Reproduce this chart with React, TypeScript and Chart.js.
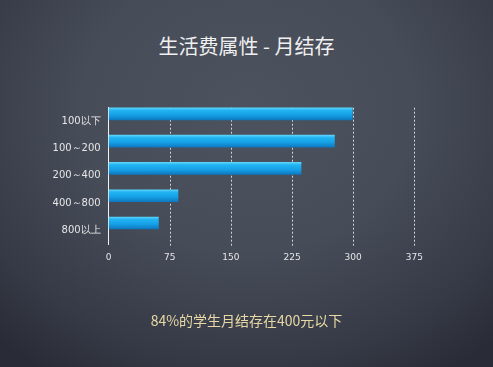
import React, { useEffect, useRef } from "react";
import { Chart, registerables } from "chart.js";

Chart.register(...registerables);

const categories: string[] = ["100以下", "100～200", "200～400", "400～800", "800以上"];
const values: number[] = [299, 277, 236, 85, 61];
const xTicks: number[] = [0, 75, 150, 225, 300, 375];
const titleText = "生活费属性 - 月结存";
const footerText = "84%的学生月结存在400元以下";

const W = 493;
const H = 367;

export default function App() {
  const ref = useRef<HTMLCanvasElement | null>(null);

  useEffect(() => {
    document.body.style.margin = "0";
    const canvas = ref.current;
    if (!canvas) return;

    const gridPlugin = {
      id: "dottedGrid",
      beforeDatasetsDraw(chart: any) {
        const { ctx, chartArea, scales } = chart;
        ctx.save();
        ctx.strokeStyle = "rgba(235,235,235,0.85)";
        ctx.lineWidth = 1;
        ctx.setLineDash([2, 2]);
        xTicks.forEach((v) => {
          if (v === 0) return;
          const x = Math.round(scales.x.getPixelForValue(v)) + 0.5;
          ctx.beginPath();
          ctx.moveTo(x, chartArea.top);
          ctx.lineTo(x, chartArea.bottom + 2);
          ctx.stroke();
        });
        ctx.restore();
        ctx.save();
        ctx.translate(0, -7.4);
      },
      afterDatasetsDraw(chart: any) {
        chart.ctx.restore();
      },
    };

    const chart = new Chart(canvas, {
      type: "bar",
      data: {
        labels: categories,
        datasets: [
          {
            data: values,
            barThickness: 12,
            borderWidth: 0,
            backgroundColor: (c: any) => {
              const ch = c.chart;
              const ys = ch.scales && ch.scales.y;
              if (!ys || c.dataIndex === undefined) return "#18a4ea";
              const cy = ys.getPixelForValue(c.dataIndex);
              if (!isFinite(cy)) return "#18a4ea";
              const g = ch.ctx.createLinearGradient(0, cy - 6, 0, cy + 6);
              g.addColorStop(0, "#5cd4fa");
              g.addColorStop(0.2, "#22b4f2");
              g.addColorStop(0.6, "#16a0e6");
              g.addColorStop(1, "#0d78c0");
              return g;
            },
          },
        ],
      },
      options: {
        indexAxis: "y",
        responsive: false,
        animation: false,
        layout: {
          padding: { left: 0, top: 107.7, right: W - 414.3, bottom: H - 244 - 30 },
        },
        plugins: {
          legend: { display: false },
          tooltip: { enabled: false },
          title: { display: false },
        },
        scales: {
          x: {
            min: 0,
            max: 375,
            grid: { display: false, drawTicks: false },
            border: { display: false },
            afterFit: (s: any) => {
              s.height = 30;
            },
            afterBuildTicks: (s: any) => {
              s.ticks = xTicks.map((v) => ({ value: v }));
            },
            ticks: {
              color: "#e6e6e6",
              padding: 8,
              font: { family: "DejaVu Sans", size: 9 },
            },
          },
          y: {
            type: "category",
            grid: { display: false, drawTicks: false },
            border: { display: true, color: "#f2f2f2", width: 1 },
            afterFit: (s: any) => {
              s.width = 108.7;
            },
            ticks: {
              color: "#e6e6e6",
              padding: 8,
              font: { family: "DejaVu Sans", size: 10 },
            },
          },
        },
      },
      plugins: [gridPlugin],
    });

    return () => chart.destroy();
  }, []);

  return (
    <div
      style={{
        position: "relative",
        width: W,
        height: H,
        overflow: "hidden",
        background:
          "radial-gradient(ellipse 75% 85% at 50% 30%, #4d525f 0%, #474c59 45%, #363a46 80%, #292c36 100%)",
      }}
    >
      <div
        style={{
          position: "absolute",
          left: 0,
          width: W,
          top: 32,
          textAlign: "center",
          fontFamily: "'Noto Sans CJK SC', sans-serif",
          fontSize: 20,
          lineHeight: "28px",
          color: "#f0f0f0",
        }}
      >
        {titleText}
      </div>
      <canvas ref={ref} width={W} height={H} style={{ position: "absolute", left: 0, top: 0 }} />
      <div
        style={{
          position: "absolute",
          left: 0,
          width: W,
          top: 310,
          textAlign: "center",
          fontFamily: "'Noto Sans CJK SC', sans-serif",
          fontSize: 14,
          lineHeight: "20px",
          color: "#e8d9a4",
        }}
      >
        {footerText}
      </div>
    </div>
  );
}
